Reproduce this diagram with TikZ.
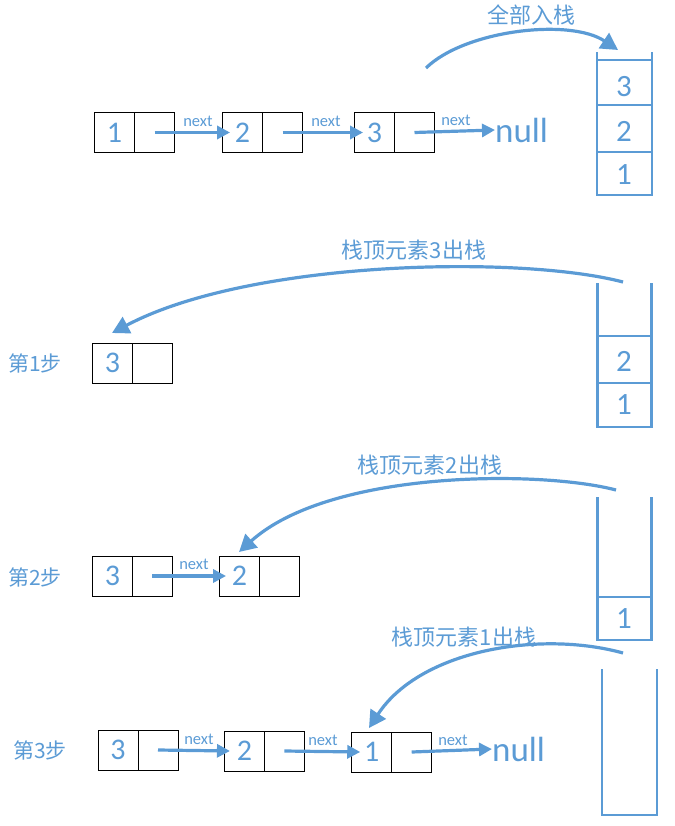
\documentclass[tikz,border=0pt]{standalone}
\usepackage{fontspec}
\setmainfont{Carlito}
\newfontfamily\cjkfont{Noto Sans CJK SC}
\usetikzlibrary{arrows.meta}
\definecolor{myblue}{HTML}{5B9BD5}
\begin{document}
\begin{tikzpicture}[x=1pt,y=-1pt,
  cell/.style={draw=black, line width=0.9pt, minimum width=40pt, minimum height=40pt, inner sep=0pt,
    text=myblue, font=\fontsize{30}{30}\selectfont},
  ptr/.style={draw=myblue, line width=3.2pt, -{Triangle[length=13pt,width=13pt]}},
  arc/.style={draw=myblue, line width=3.2pt, -{Triangle[length=17pt,width=18pt]}},
  nextlbl/.style={text=myblue, inner sep=0pt, font=\fontsize{16.5}{16.5}\selectfont},
  nulllbl/.style={text=myblue, inner sep=0pt, anchor=west, font=\fontsize{35}{35}\selectfont},
  cjklbl/.style={text=myblue, inner sep=0pt, font=\cjkfont\fontsize{22}{22}\selectfont},
  steplbl/.style={text=myblue, inner sep=0pt, anchor=west, font=\cjkfont\fontsize{21}{21}\selectfont},
  stk/.style={draw=myblue, line width=2.8pt, line cap=rect},
  stknum/.style={text=myblue, inner sep=0pt, font=\fontsize{31}{31}\selectfont}]
\useasboundingbox (0,0) rectangle (674,826);

% ---------- Row 1 ----------
\node[cell] (r1v1) at (114.5,132.5) {1};
\node[cell] (r1p1) at (154.5,132.5) {};
\node[cell] (r1v2) at (242.5,132.5) {2};
\node[cell] (r1p2) at (282.5,132.5) {};
\node[cell] (r1v3) at (374.5,132.5) {3};
\node[cell] (r1p3) at (414.5,132.5) {};
\node[nulllbl] (r1null) at (495,130) {null};
\draw[ptr] (r1p1.center) -- ([xshift=8pt]r1v2.west);
\draw[ptr] (r1p2.center) -- ([xshift=9pt]r1v3.west);
\draw[ptr] (r1p3.center) -- (r1null.west);
\node[nextlbl] (r1n1) at (198,121) {next};
\node[nextlbl] (r1n2) at (326,121) {next};
\node[nextlbl] (r1n3) at (456,120) {next};

% stack 1
\draw[stk] (597,53) -- (597,195) -- (652,195) -- (652,53);
\draw[stk] (597,60) -- (652,60);
\draw[stk] (597,105) -- (652,105);
\draw[stk] (597,152) -- (652,152);
\node[stknum] (s1c3) at (624,87) {3};
\node[stknum] (s1c2) at (624,131) {2};
\node[stknum] (s1c1) at (624,175) {1};

\node[cjklbl] (t1) at (531,15) {全部入栈};
\coordinate (a1s) at (426,68);
\coordinate (a1e) at (618,50);
\draw[arc] (a1s) .. controls (465,30) and (570,18) .. (a1e);

% ---------- Row 2 (step 1) ----------
\node[steplbl] (st1) at (8,363) {第1步};
\node[cell] (r2v1) at (112.4,363) {3};
\node[cell] (r2p1) at (152.4,363) {};

\draw[stk] (597.5,284) -- (597.5,427) -- (651.5,427) -- (651.5,284);
\draw[stk] (597.5,336) -- (651.5,336);
\draw[stk] (597.5,383) -- (651.5,383);
\node[stknum] (s2c2) at (624,361) {2};
\node[stknum] (s2c1) at (624,405) {1};

\node[cjklbl] (t2) at (414,250) {栈顶元素3出栈};
\coordinate (a2s) at (623,282);
\coordinate (a2e) at (112,333);
\draw[arc] (a2s) .. controls (520,255) and (250,260) .. (a2e);

% ---------- Row 3 (step 2) ----------
\node[steplbl] (st2) at (8,577) {第2步};
\node[cell] (r3v1) at (112.4,576) {3};
\node[cell] (r3p1) at (152.4,576) {};
\node[cell] (r3v2) at (239.5,576) {2};
\node[cell] (r3p2) at (279.5,576) {};
\draw[ptr] (r3p1.center) -- ([xshift=7pt]r3v2.west);
\node[nextlbl] (r3n1) at (194,564) {next};

\draw[stk] (597.5,498) -- (597.5,640) -- (651.5,640) -- (651.5,498);
\draw[stk] (597.5,597) -- (651.5,597);
\node[stknum] (s3c1) at (624,619) {1};

\node[cjklbl] (t3) at (430,465) {栈顶元素2出栈};
\coordinate (a3s) at (616,490);
\coordinate (a3e) at (239,552);
\draw[arc] (a3s) .. controls (540,470) and (330,470) .. (a3e);

% ---------- Row 4 (step 3) ----------
\node[steplbl] (st3) at (13,750) {第3步};
\node[cell] (r4v1) at (118,750) {3};
\node[cell] (r4p1) at (158,750) {};
\node[cell] (r4v2) at (244.4,751) {2};
\node[cell] (r4p2) at (284.4,751) {};
\node[cell] (r4v3) at (371.7,752) {1};
\node[cell] (r4p3) at (411.7,752) {};
\node[nulllbl] (r4null) at (492,749) {null};
\draw[ptr] (r4p1.center) -- ([xshift=6pt]r4v2.west);
\draw[ptr] (r4p2.center) -- ([xshift=9pt]r4v3.west);
\draw[ptr] (r4p3.center) -- (r4null.west);
\node[nextlbl] (r4n1) at (199,739) {next};
\node[nextlbl] (r4n2) at (323,740) {next};
\node[nextlbl] (r4n3) at (453,740) {next};

\draw[stk] (602,670) -- (602,815) -- (657,815) -- (657,670);

\node[cjklbl] (t4) at (464,637) {栈顶元素1出栈};
\coordinate (a4s) at (623,653);
\coordinate (a4e) at (369,728);
\draw[arc] (a4s) .. controls (540,630) and (420,650) .. (a4e);
\end{tikzpicture}
\end{document}
